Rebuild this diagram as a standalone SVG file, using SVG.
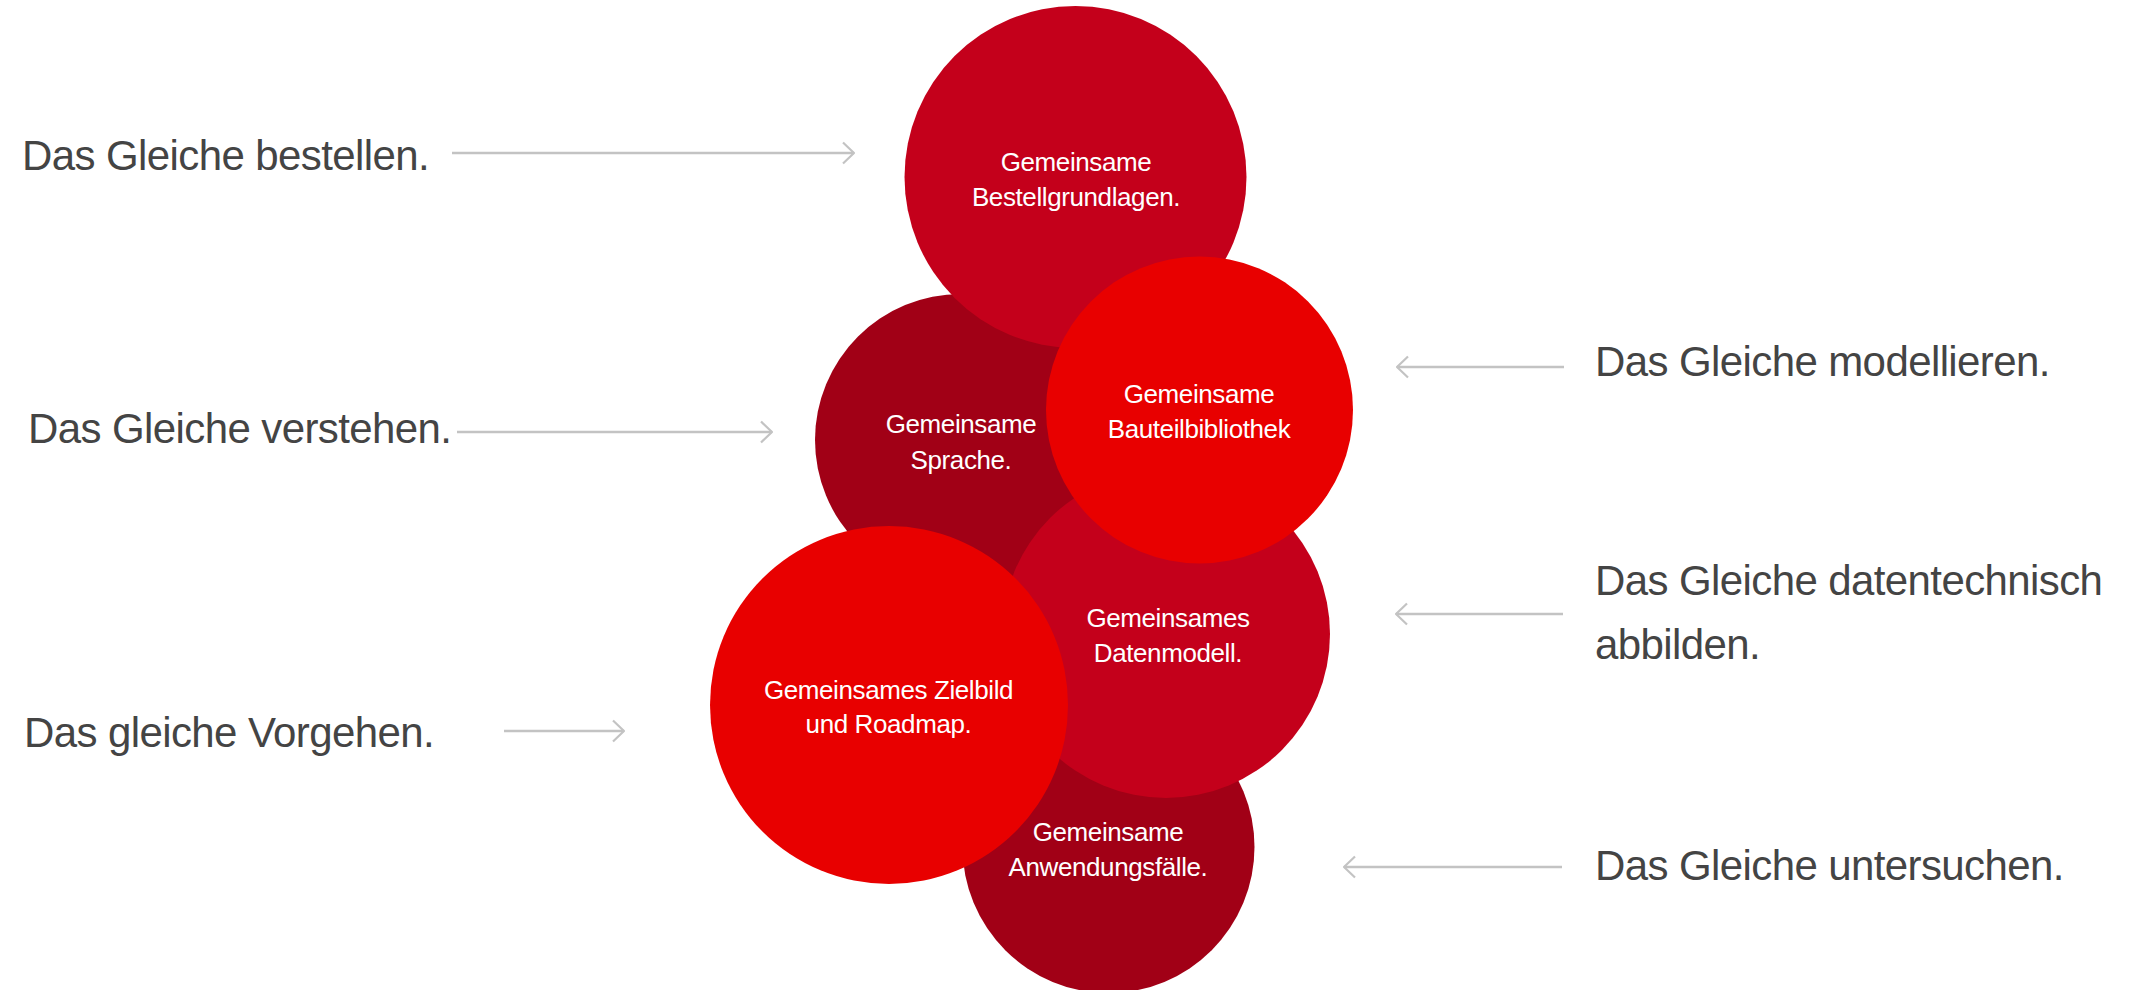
<svg xmlns="http://www.w3.org/2000/svg" width="2133" height="990" viewBox="0 0 2133 990">
  <style>
    .label { font-family: "Liberation Sans", Arial, Helvetica, sans-serif; font-size: 42px; fill: #444444; letter-spacing: -0.6px; }
    .inner { font-family: "Liberation Sans", Arial, Helvetica, sans-serif; font-size: 26px; fill: #ffffff; letter-spacing: -0.4px; text-anchor: middle; }
    .dark { fill: #a10016; }
    .mid { fill: #c4001b; }
    .bright { fill: #e80000; }
    .conn { stroke: #c3c3c3; stroke-width: 2.5; fill: none; marker-end: url(#chevron); }
  </style>
  <defs>
    <marker id="chevron" viewBox="0 0 13 24" refX="12" refY="12" markerWidth="13" markerHeight="24" markerUnits="userSpaceOnUse" orient="auto">
      <path d="M1,1.5 L12,12 L1,22.5" fill="none" stroke="#c3c3c3" stroke-width="2.2"/>
    </marker>
  </defs>
  <rect width="2133" height="990" fill="#ffffff"/>

  <!-- circles, back to front -->
  <g id="sprache">
    <circle class="dark" cx="961" cy="440" r="146"/>
    <text class="inner"><tspan x="961" y="433">Gemeinsame</tspan><tspan x="961" y="469">Sprache.</tspan></text>
  </g>
  <g id="bestellgrundlagen">
    <circle class="mid" cx="1075.5" cy="177" r="171"/>
    <text class="inner"><tspan x="1076" y="171">Gemeinsame</tspan><tspan x="1076" y="206">Bestellgrundlagen.</tspan></text>
  </g>
  <g id="anwendungsfaelle">
    <circle class="dark" cx="1108.5" cy="847" r="146"/>
    <text class="inner"><tspan x="1108" y="841">Gemeinsame</tspan><tspan x="1108" y="876">Anwendungsfälle.</tspan></text>
  </g>
  <g id="datenmodell">
    <circle class="mid" cx="1166" cy="634" r="164"/>
    <text class="inner"><tspan x="1168" y="627">Gemeinsames</tspan><tspan x="1168" y="662">Datenmodell.</tspan></text>
  </g>
  <g id="bauteilbibliothek">
    <circle class="bright" cx="1199.5" cy="410" r="153.5"/>
    <text class="inner"><tspan x="1199" y="403">Gemeinsame</tspan><tspan x="1199" y="438">Bauteilbibliothek</tspan></text>
  </g>
  <g id="zielbild">
    <circle class="bright" cx="889" cy="705" r="179"/>
    <text class="inner"><tspan x="888.5" y="699">Gemeinsames Zielbild</tspan><tspan x="888.5" y="733">und Roadmap.</tspan></text>
  </g>

  <!-- side statements -->
  <g id="bestellen"><text class="label" x="22" y="170">Das Gleiche bestellen.</text></g>
  <g id="verstehen"><text class="label" x="28" y="443">Das Gleiche verstehen.</text></g>
  <g id="vorgehen"><text class="label" x="24" y="747">Das gleiche Vorgehen.</text></g>
  <g id="modellieren"><text class="label" x="1595" y="376">Das Gleiche modellieren.</text></g>
  <g id="datentechnisch"><text class="label"><tspan x="1595" y="595">Das Gleiche datentechnisch</tspan><tspan x="1595" y="659">abbilden.</tspan></text></g>
  <g id="untersuchen"><text class="label" x="1595" y="880">Das Gleiche untersuchen.</text></g>

  <!-- connectors -->
  <g id="connectors">
    <line class="conn" x1="452" y1="153" x2="854" y2="153"/>
    <line class="conn" x1="457" y1="432" x2="772" y2="432"/>
    <line class="conn" x1="504" y1="731" x2="624" y2="731"/>
    <line class="conn" x1="1564" y1="367" x2="1397" y2="367"/>
    <line class="conn" x1="1563" y1="614" x2="1396" y2="614"/>
    <line class="conn" x1="1562" y1="867" x2="1344" y2="867"/>
  </g>
</svg>
